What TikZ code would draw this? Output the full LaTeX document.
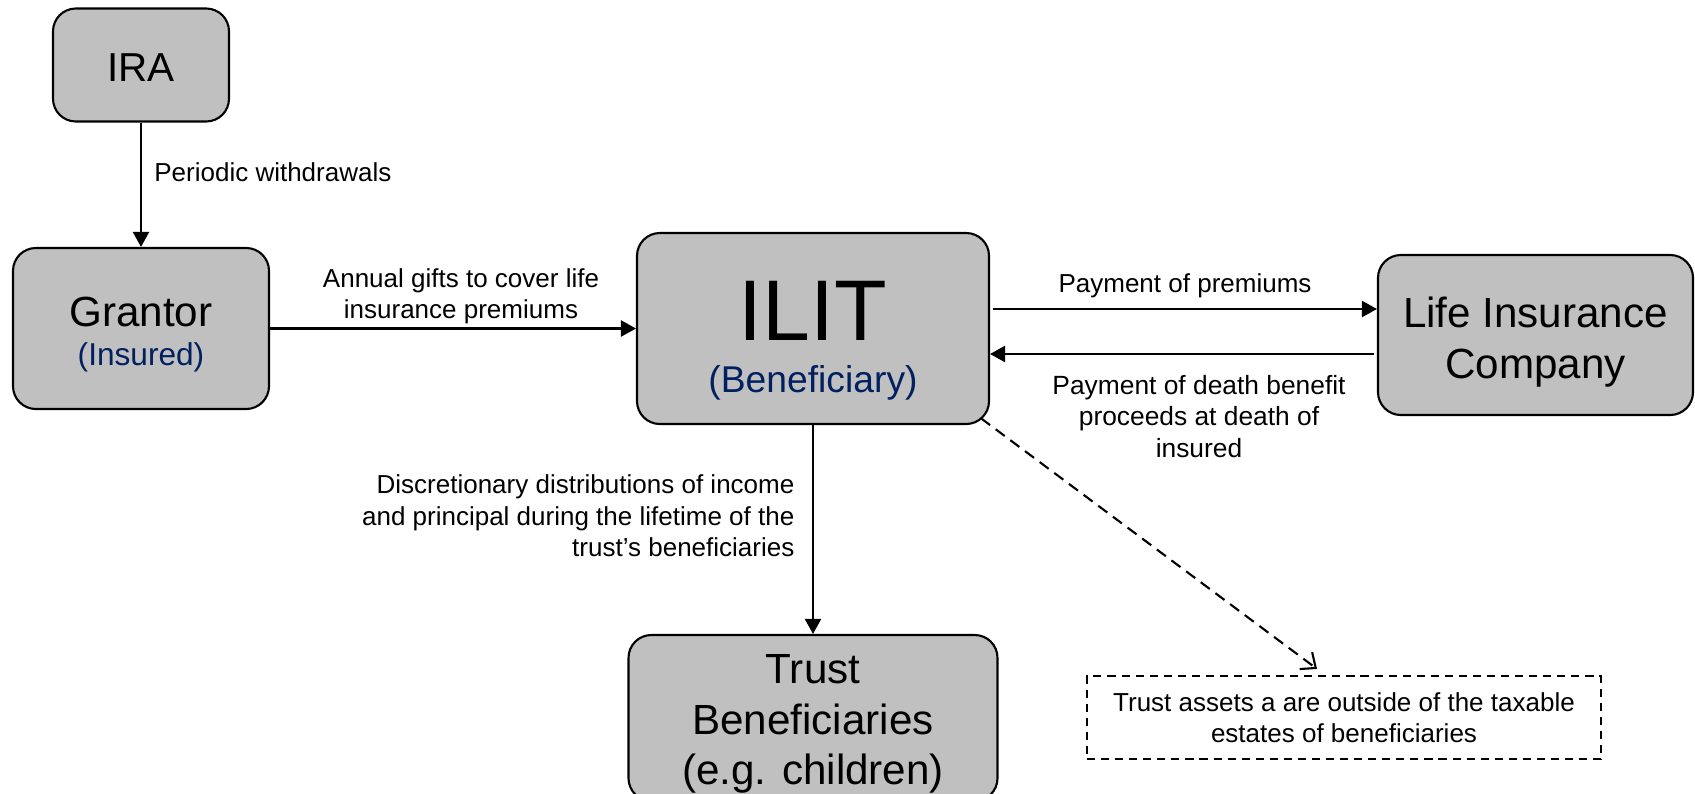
\documentclass[tikz,border=0pt]{standalone}
\usepackage{fontspec}
\setmainfont{Liberation Sans}
\usepackage{xcolor}
\usetikzlibrary{arrows.meta,positioning,calc}
\definecolor{boxgray}{RGB}{192,192,192}
\definecolor{subblue}{RGB}{0,32,96}

\begin{document}
\begin{tikzpicture}[
    box/.style={draw, line width=0.6pt, fill=boxgray, rounded corners=6.5pt,
                align=center, inner sep=2pt, font=\fontsize{12}{14.5}\selectfont},
    lbl/.style={font=\fontsize{7.4}{8.9}\selectfont, inner sep=0pt, align=center},
    arr/.style={-{Triangle[length=4.3pt,width=4.6pt]}, line width=0.6pt},
    dasharr/.style={-{Straight Barb[length=3.5pt,width=6pt]}, line width=0.6pt,
                    dash pattern=on 3.2pt off 2pt},
    notebox/.style={draw, line width=0.6pt, dash pattern=on 2.3pt off 1.7pt,
                    minimum width=5.14cm, minimum height=0.83cm, align=center,
                    inner sep=0pt, font=\fontsize{7.4}{8.9}\selectfont}
]
\useasboundingbox (0,0) rectangle (16.95,7.93);
\clip (0,0) rectangle (16.95,7.93);

%% IRA
\node[box, minimum width=1.76cm, minimum height=1.13cm,
      font=\fontsize{11.5}{14}\selectfont]
    (ira) at (1.41,7.28) {\rule{0pt}{9.4pt}IRA};

%% GRANTOR
\node[box, minimum width=2.56cm, minimum height=1.61cm,
      font=\fontsize{12}{11.1}\selectfont]
    (grantor) at (1.41,4.645)
    {\rule{0pt}{11.7pt}Grantor\\{\color{subblue}\fontsize{9}{11.1}\selectfont (Insured)}};

%% ILIT
\node[box, minimum width=3.52cm, minimum height=1.91cm,
      font=\fontsize{24.5}{14.8}\selectfont]
    (ilit) at (8.13,4.645)
    {\rule{0pt}{23.7pt}ILIT\\{\color{subblue}\fontsize{10.6}{14.8}\selectfont (Beneficiary)}};

%% LIFE INSURANCE COMPANY
\node[box, minimum width=3.15cm, minimum height=1.60cm]
    (lic) at (15.355,4.58) {\rule{0pt}{12.5pt}Life Insurance\\Company};

%% TRUST BENEFICIARIES
\node[box, minimum width=3.69cm, minimum height=1.66cm]
    (trust) at (8.13,0.75)
    {\rule{0pt}{11.6pt}Trust\\Beneficiaries\\(e.g. children)};

%% NOTE
\node[notebox] (note) at (13.44,0.755)
    {Trust assets a are outside of the taxable\\estates of beneficiaries};

%% helper points
\coordinate (premL) at ($(ilit.east)+(0.03,0.195)$);
\coordinate (deathR) at ($(lic.west)+(-0.03,-0.19)$);
\coordinate (notetip) at ($(note.north)+(-0.27,0.06)$);

%% ARROWS
\draw[arr] (ira.south) -- (grantor.north)
    node[lbl, pos=0.4, right=3.5pt] {Periodic withdrawals};

\draw[arr] (grantor.east) -- (ilit.west)
    node[lbl, midway, above=0.9pt, xshift=0.08cm]
    {Annual gifts to cover life\\insurance premiums};

\draw[arr] (premL) -- (premL -| lic.west)
    node[lbl, midway, above=3pt] {Payment of premiums};

\draw[arr] (deathR) -- (deathR -| ilit.east)
    node[lbl, midway, below=5.8pt, xshift=0.17cm,
         font=\fontsize{7.5}{8.9}\selectfont]
    {Payment of death benefit\\proceeds at death of\\insured};

\draw[arr] (ilit.south) -- (trust.north)
    node[lbl, pos=0.435, left=5pt, align=right]
    {Discretionary distributions of income\\and principal during the lifetime of the\\trust’s beneficiaries};

\draw[dasharr, shorten <=-3.2pt] (ilit.south east) -- (notetip);

\end{tikzpicture}
\end{document}
